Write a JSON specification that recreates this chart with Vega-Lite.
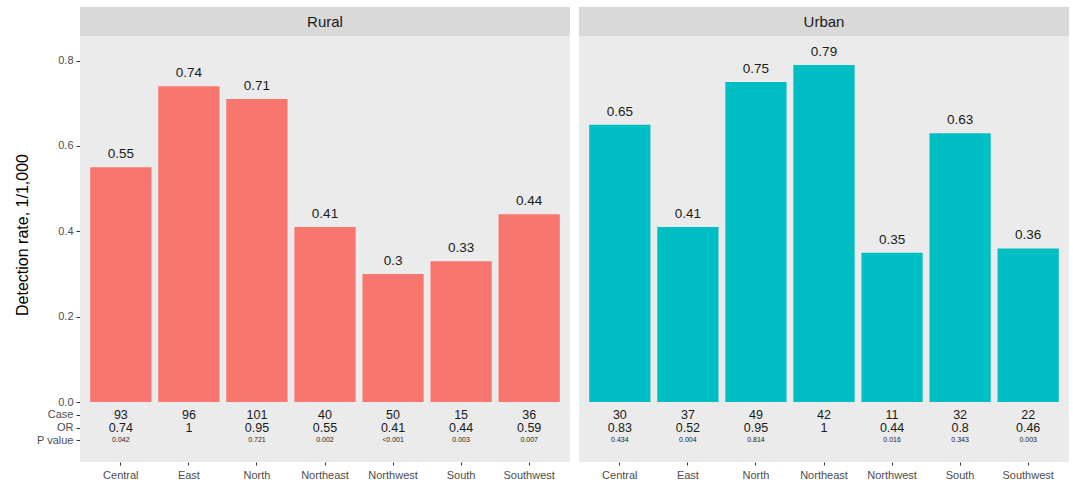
{
  "$schema": "https://vega.github.io/schema/vega-lite/v6.json",
  "padding": {"left": 14, "top": 7, "right": 4, "bottom": 2},
  "background": "white",
  "data": {"values": [
    {"area": "Rural", "region": "Central", "rate": 0.55, "case": "93", "or": "0.74", "p": "0.042"},
    {"area": "Rural", "region": "East", "rate": 0.74, "case": "96", "or": "1", "p": ""},
    {"area": "Rural", "region": "North", "rate": 0.71, "case": "101", "or": "0.95", "p": "0.721"},
    {"area": "Rural", "region": "Northeast", "rate": 0.41, "case": "40", "or": "0.55", "p": "0.002"},
    {"area": "Rural", "region": "Northwest", "rate": 0.3, "case": "50", "or": "0.41", "p": "<0.001"},
    {"area": "Rural", "region": "South", "rate": 0.33, "case": "15", "or": "0.44", "p": "0.003"},
    {"area": "Rural", "region": "Southwest", "rate": 0.44, "case": "36", "or": "0.59", "p": "0.007"},
    {"area": "Urban", "region": "Central", "rate": 0.65, "case": "30", "or": "0.83", "p": "0.434"},
    {"area": "Urban", "region": "East", "rate": 0.41, "case": "37", "or": "0.52", "p": "0.004"},
    {"area": "Urban", "region": "North", "rate": 0.75, "case": "49", "or": "0.95", "p": "0.814"},
    {"area": "Urban", "region": "Northeast", "rate": 0.79, "case": "42", "or": "1", "p": ""},
    {"area": "Urban", "region": "Northwest", "rate": 0.35, "case": "11", "or": "0.44", "p": "0.016"},
    {"area": "Urban", "region": "South", "rate": 0.63, "case": "32", "or": "0.8", "p": "0.343"},
    {"area": "Urban", "region": "Southwest", "rate": 0.36, "case": "22", "or": "0.46", "p": "0.003"}
  ]},
  "facet": {"column": {"field": "area", "type": "nominal", "title": null, "sort": ["Rural", "Urban"], "header": {"labels": false, "title": null}}},
  "spacing": 9,
  "spec": {
    "width": 490,
    "height": 455,
    "layer": [
      {
        "mark": {"type": "rect", "fill": "#D9D9D9"},
        "encoding": {
          "x": {"value": 0},
          "x2": {"value": "width"},
          "y": {"datum": 0.8577, "type": "quantitative"},
          "y2": {"datum": 0.9257}
        }
      },
      {
        "transform": [{"filter": "datum.region === 'Central'"}],
        "mark": {"type": "text", "fontSize": 15, "color": "#1A1A1A", "baseline": "middle", "dy": 1},
        "encoding": {
          "y": {"datum": 0.892, "type": "quantitative"},
          "text": {"field": "area", "type": "nominal"}
        }
      },
      {
        "mark": {"type": "bar"},
        "encoding": {
          "x": {"field": "region", "type": "nominal", "title": null,
            "scale": {"paddingInner": 0.1, "paddingOuter": 0.15},
            "axis": {"labelAngle": 0, "labelPadding": 4, "tickSize": 3}},
          "y": {"field": "rate", "type": "quantitative", "title": "Detection rate, 1/1,000",
            "scale": {"domain": [-0.1406, 0.9257], "nice": false, "zero": false},
            "axis": {"values": [-0.09, -0.06, -0.03, 0, 0.2, 0.4, 0.6, 0.8],
              "labelExpr": "datum.value < -0.08 ? 'P value' : datum.value < -0.05 ? 'OR' : datum.value < -0.02 ? 'Case' : format(datum.value, '.1f')",
              "tickSize": 4, "labelPadding": 3, "labelOverlap": false, "labelFlush": false, "titlePadding": 5.5}},
          "color": {"field": "area", "type": "nominal", "scale": {"domain": ["Rural", "Urban"], "range": ["#F8766D", "#00BFC4"]}, "legend": null}
        }
      },
      {
        "mark": {"type": "text", "fontSize": 13.5, "color": "#1A1A1A", "baseline": "alphabetic", "dy": -9},
        "encoding": {
          "x": {"field": "region", "type": "nominal", "title": null},
          "y": {"field": "rate", "type": "quantitative", "title": "Detection rate, 1/1,000"},
          "text": {"field": "rate", "type": "nominal"}
        }
      },
      {
        "mark": {"type": "text", "fontSize": 12.5, "color": "#1A1A1A", "baseline": "middle"},
        "encoding": {
          "x": {"field": "region", "type": "nominal", "title": null},
          "y": {"datum": -0.03, "type": "quantitative"},
          "text": {"field": "case", "type": "nominal"}
        }
      },
      {
        "mark": {"type": "text", "fontSize": 12.5, "color": "#1A1A1A", "baseline": "middle"},
        "encoding": {
          "x": {"field": "region", "type": "nominal", "title": null},
          "y": {"datum": -0.06, "type": "quantitative"},
          "text": {"field": "or", "type": "nominal"}
        }
      },
      {
        "mark": {"type": "text", "fontSize": 7, "color": "#1A1A1A", "baseline": "middle"},
        "encoding": {
          "x": {"field": "region", "type": "nominal", "title": null},
          "y": {"datum": -0.09, "type": "quantitative"},
          "text": {"field": "p", "type": "nominal"}
        }
      }
    ]
  },
  "config": {
    "font": "Liberation Sans",
    "view": {"fill": "#EBEBEB", "stroke": null},
    "axis": {"grid": false, "domain": false, "tickColor": "#333333", "labelColor": "#4D4D4D", "labelFontSize": 11,
      "titleFontSize": 16, "titleColor": "#000000", "titleFontWeight": "normal"}
  }
}
